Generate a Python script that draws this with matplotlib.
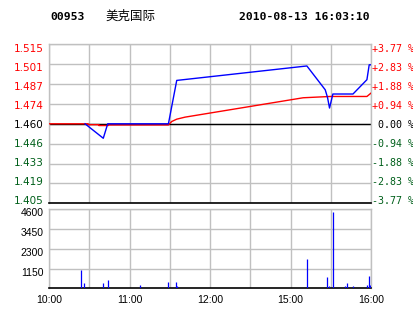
"""分时图：00953 美克国际 2010-08-13."""

import matplotlib

matplotlib.use("Agg")
import matplotlib.pyplot as plt
from matplotlib.transforms import ScaledTranslation

# 分钟索引：0 = 10:00，150 = 12:30 / 14:30，240 = 16:00
precio_min = [26.7, 40.3, 43.6, 88.9, 95.1, 192.2, 205.9, 207.6, 209.1, 211.6, 226.6, 237.0, 238.7, 240]
precio = [1.460, 1.450, 1.460, 1.460, 1.490, 1.500, 1.4835, 1.4782, 1.4709, 1.4806, 1.4806, 1.4905, 1.5008, 1.5008]

media_min = [0, 29, 29, 37, 37, 44, 44, 88.9, 91.4, 95.1, 101.3, 189.4, 209.6, 237.0, 240]
media = [1.460, 1.460, 1.4594, 1.4594, 1.4588, 1.4588, 1.4592, 1.4592, 1.4616, 1.4632, 1.4646,
         1.478, 1.4789, 1.4789, 1.4812]

vol_min = [24, 26.2, 40.3, 44, 68, 88.9, 94.9, 95.6, 192, 206.9, 209, 212, 220.3, 222, 226.3, 236.8, 238.3, 239]
volumen = [1070, 310, 310, 485, 195, 370, 370, 135, 1710, 660, 135, 4440, 135, 310, 135, 195, 720, 195]

cierre_prev = 1.460
precio_ticks = [1.515, 1.50125, 1.4875, 1.47375, 1.460, 1.44625, 1.4325, 1.41875, 1.405]
precio_labels = ["1.515", "1.501", "1.487", "1.474", "1.460", "1.446", "1.433", "1.419", "1.405"]
pct_labels = ["+3.77 %", "+2.83 %", "+1.88 %", "+0.94 %", " 0.00 %",
              "-0.94 %", "-1.88 %", "-2.83 %", "-3.77 %"]
vol_ticks = [1150, 2300, 3450, 4600]
x_ticks = [0, 30, 60, 90, 120, 150, 180, 210, 240]
x_labels = ["10:00", "", "11:00", "", "12:00", "", "15:00", "", "16:00"]

ROJO = "#ff0000"
VERDE = "#005f1a"
GRIS = "#c0c0c0"
AZUL = "#0000ff"

colores = [ROJO] * 4 + ["black"] + [VERDE] * 4
desplaz = [3.4, 2.6, 1.7, 0.9, 0.0, -0.8, -1.6, -2.5, -3.3]  # px hacia abajo

fig = plt.figure(figsize=(4.14, 3.14), dpi=100)
fig.patch.set_facecolor("white")


def bajar(etiqueta, px):
    etiqueta.set_transform(etiqueta.get_transform() + ScaledTranslation(0, -px / 100, fig.dpi_scale_trans))


def estilo_ejes(ax):
    for lado in ["left", "right", "top"]:
        ax.spines[lado].set_color(GRIS)
        ax.spines[lado].set_linewidth(1.0)
    ax.spines["bottom"].set_color("black")
    ax.spines["bottom"].set_linewidth(1.2)
    ax.grid(color=GRIS, linewidth=1.0)
    ax.set_axisbelow(True)
    ax.tick_params(length=0)


# --- precio ---
ax = fig.add_axes([0.119, 0.3525, 0.777, 0.5065])
ax.set_xlim(0, 240)
ax.set_ylim(1.405, 1.515)
estilo_ejes(ax)
ax.set_xticks(x_ticks)
ax.set_xticklabels([])
ax.set_yticks(precio_ticks)
ax.set_yticklabels(precio_labels, fontsize=7.5, family="DejaVu Sans")
ax.tick_params(axis="y", pad=4)
for lab, col, d in zip(ax.get_yticklabels(), colores, desplaz):
    lab.set_color(col)
    bajar(lab, d)

ax.axhline(cierre_prev, color="black", linewidth=1.0, zorder=2)
ax.plot(media_min, media, color=ROJO, linewidth=1.0, zorder=3)
ax.plot(precio_min, precio, color=AZUL, linewidth=1.0, zorder=4)

ax2 = ax.twinx()
ax2.set_ylim(ax.get_ylim())
ax2.set_yticks(precio_ticks)
ax2.set_yticklabels(pct_labels, fontsize=7.2, family="DejaVu Sans Mono")
ax2.tick_params(length=0, pad=0.5)
for s in ax2.spines.values():
    s.set_visible(False)
for lab, col, d in zip(ax2.get_yticklabels(), colores, desplaz):
    lab.set_color(col)
    bajar(lab, d)

# --- volumen ---
axv = fig.add_axes([0.119, 0.0818, 0.777, 0.2516])
axv.set_xlim(0, 240)
axv.set_ylim(0, 4600)
estilo_ejes(axv)
axv.set_xticks(x_ticks)
axv.set_xticklabels(x_labels, fontsize=7.5, family="Liberation Sans")
axv.tick_params(axis="x", pad=5)
axv.set_yticks(vol_ticks)
axv.set_yticklabels([str(v) for v in vol_ticks], fontsize=7.5, family="Liberation Sans")
axv.tick_params(axis="y", pad=4)
for lab in axv.get_yticklabels():
    bajar(lab, 3)
axv.vlines(vol_min, 0, volumen, color=AZUL, linewidth=0.9, zorder=3)

# --- título ---
fig.text(0.1208, 0.947, "00953", fontsize=8.2, family="DejaVu Sans Mono", weight="bold", va="center")
fig.text(0.2536, 0.947, "美克国际", fontsize=9, family=["Noto Sans CJK SC", "DejaVu Sans"], va="center")
fig.text(0.894, 0.947, "2010-08-13 16:03:10", fontsize=8.2, family="DejaVu Sans Mono",
         weight="bold", va="center", ha="right")

fig.savefig("out.png", dpi=100)
